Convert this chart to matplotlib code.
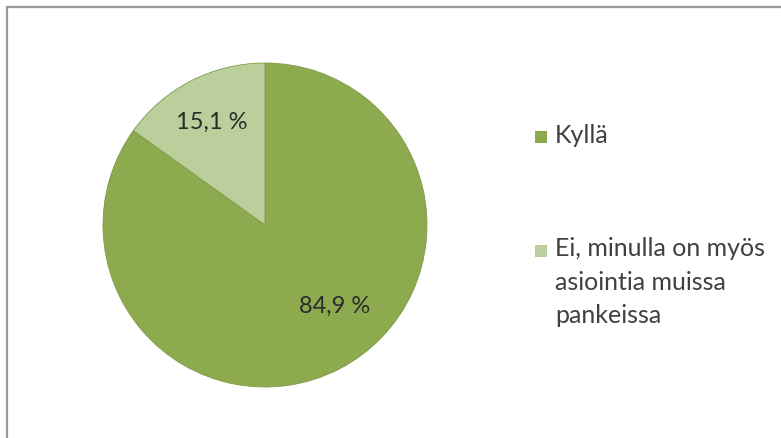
import matplotlib.pyplot as plt
from matplotlib.patches import Rectangle

labels = ['Kyllä', 'Ei, minulla on myös\nasiointia muissa\npankeissa']
shares = [84.9, 15.1]
colors = ['#8eaa4f', '#bbcf9c']
text_color = '#404040'

plt.rcParams['font.family'] = ['Lato', 'DejaVu Sans']

fig = plt.figure(figsize=(7.81, 4.38), dpi=100)
W, H = 781, 438

# chart frame (only top and left edges are inside the canvas)
fig.patches.append(Rectangle((7.5 / W, -0.1), 1.2, 1.1 - 6.5 / H,
                             transform=fig.transFigure, fill=False,
                             edgecolor='#9a9a9a', linewidth=1.6))

cx, cy, r = 265, 225, 162
ax = fig.add_axes([(cx - r) / W, (H - cy - r) / H, 2 * r / W, 2 * r / H])
wedges, texts, autotexts = ax.pie(
    shares, colors=colors, startangle=90, counterclock=False,
    autopct=lambda p: f'{p:.1f} %'.replace('.', ','), pctdistance=0.7,
    wedgeprops=dict(linewidth=0.6, edgecolor='#7f9a45'),
    textprops=dict(color='#2b2b2b', fontsize=17))
ax.set_xlim(-1, 1)
ax.set_ylim(-1, 1)
ax.set_aspect('equal')

# Excel-style label placement
autotexts[0].set_position((0.43, -0.5))
autotexts[1].set_position((-0.33, 0.635))

# legend: marker sits next to the first line of each entry
# (va='baseline' anchors the last line, so shift by the line pitch)
baselines = [143, 257]
pitch = 33
sq = 12
for lab, col, base in zip(labels, colors, baselines):
    fig.patches.append(Rectangle((535 / W, (H - base) / H), sq / W, sq / H,
                                 transform=fig.transFigure,
                                 facecolor=col, edgecolor='none'))
    last = base + lab.count('\n') * pitch
    fig.text(555 / W, (H - last) / H, lab, fontsize=18, color=text_color,
             ha='left', va='baseline', linespacing=1.55)

fig.savefig('out.png', dpi=100)
